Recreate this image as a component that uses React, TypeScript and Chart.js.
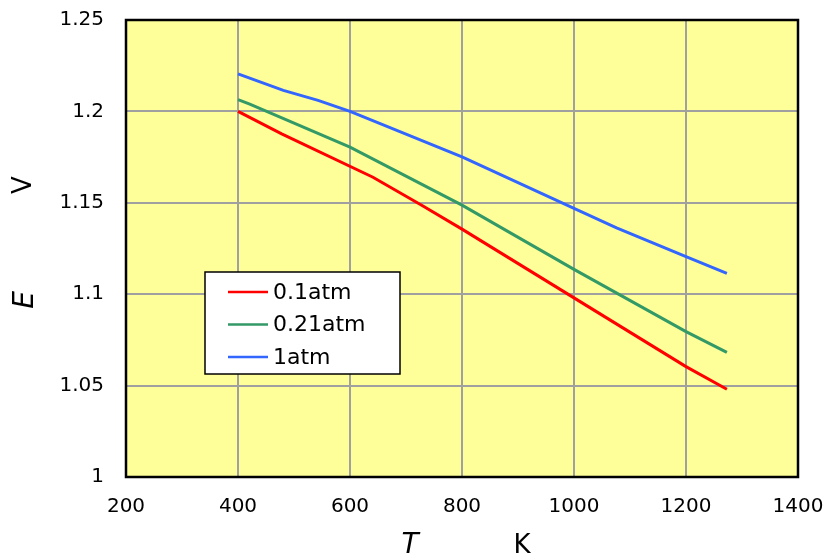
import React, { useEffect, useRef } from "react";
import { Chart, registerables } from "chart.js";
Chart.register(...registerables);

const seriesLabels = ["0.1atm", "0.21atm", "1atm"];
const seriesColors = ["#FF0000", "#339966", "#3366FF"];

const redT = [400, 478, 641, 728, 800, 1000, 1200, 1273];
const redE = [1.2, 1.1877, 1.164, 1.1487, 1.1356, 1.098, 1.0604, 1.048];

const greenT = [400, 421, 600, 800, 1000, 1200, 1273];
const greenE = [1.2064, 1.204, 1.1804, 1.1487, 1.1136, 1.0795, 1.0682];

const blueT = [400, 481, 543, 600, 800, 1000, 1076, 1200, 1273];
const blueE = [1.2205, 1.2115, 1.206, 1.2, 1.1751, 1.147, 1.1363, 1.1205, 1.1114];

const xMin = 200, xMax = 1400, xStep = 200;
const yMin = 1, yMax = 1.25, yStep = 0.05;

const FONT = "'DejaVu Sans', sans-serif";

const toPts = (t: number[], e: number[]) => t.map((x, i) => ({ x, y: e[i] }));

const decorPlugin = {
  id: "decor",
  beforeDraw(chart: any) {
    const { ctx, chartArea: a } = chart;
    ctx.save();
    ctx.fillStyle = "#FFFF99";
    ctx.fillRect(a.left, a.top, a.right - a.left, a.bottom - a.top);
    ctx.restore();
  },
  afterDatasetsDraw(chart: any) {
    const { ctx, chartArea: a } = chart;
    ctx.save();
    ctx.strokeStyle = "#000";
    ctx.lineWidth = 2.5;
    ctx.strokeRect(a.left, a.top, a.right - a.left, a.bottom - a.top);
    ctx.restore();
  },
  afterDraw(chart: any) {
    const { ctx } = chart;
    ctx.save();
    // legend
    const lx = 205, ly = 272, lw = 195, lh = 102;
    ctx.fillStyle = "#fff";
    ctx.fillRect(lx, ly, lw, lh);
    ctx.strokeStyle = "#000";
    ctx.lineWidth = 1.5;
    ctx.strokeRect(lx, ly, lw, lh);
    ctx.font = `22px ${FONT}`;
    ctx.textBaseline = "middle";
    ctx.textAlign = "left";
    chart.data.datasets.forEach((ds: any, i: number) => {
      const y = ly + 20 + i * 32.5;
      ctx.strokeStyle = ds.borderColor;
      ctx.lineWidth = 2.5;
      ctx.beginPath();
      ctx.moveTo(lx + 23, y);
      ctx.lineTo(lx + 63, y);
      ctx.stroke();
      ctx.fillStyle = "#000";
      ctx.fillText(ds.label, lx + 68, y + 1);
    });
    // axis titles
    ctx.fillStyle = "#000";
    ctx.textAlign = "center";
    ctx.textBaseline = "middle";
    ctx.font = `italic 28px ${FONT}`;
    ctx.fillText("T", 410, 546);
    ctx.font = `26px ${FONT}`;
    ctx.fillText("K", 522, 546);
    ctx.save();
    ctx.translate(26, 300);
    ctx.rotate(-Math.PI / 2);
    ctx.font = `italic 28px ${FONT}`;
    ctx.fillText("E", 0, 0);
    ctx.restore();
    ctx.save();
    ctx.translate(24, 185);
    ctx.rotate(-Math.PI / 2);
    ctx.font = `26px ${FONT}`;
    ctx.fillText("V", 0, 0);
    ctx.restore();
    ctx.restore();
  },
};

export default function App() {
  const ref = useRef<HTMLCanvasElement>(null);
  useEffect(() => {
    if (!ref.current) return;
    const mk = (label: string, color: string, t: number[], e: number[]) => ({
      label,
      data: toPts(t, e),
      borderColor: color,
      backgroundColor: color,
      borderWidth: 3,
      pointRadius: 0,
      tension: 0,
    });
    const chart = new Chart(ref.current, {
      type: "line",
      data: {
        datasets: [
          mk(seriesLabels[0], seriesColors[0], redT, redE),
          mk(seriesLabels[1], seriesColors[1], greenT, greenE),
          mk(seriesLabels[2], seriesColors[2], blueT, blueE),
        ],
      },
      options: {
        animation: false,
        responsive: false,
        devicePixelRatio: 1,
        layout: { padding: { top: 20, right: 33, left: 0, bottom: 0 } },
        plugins: { legend: { display: false }, tooltip: { enabled: false } },
        scales: {
          x: {
            type: "linear",
            min: xMin,
            max: xMax,
            ticks: {
              stepSize: xStep,
              color: "#000",
              font: { family: FONT, size: 20 },
              padding: 18,
              maxRotation: 0,
              callback: (v: any) => String(v),
            },
            grid: { color: "#A0A0A0", lineWidth: 2, drawTicks: false },
            border: { display: false },
            afterFit(scale: any) {
              scale.height = 83;
              scale.paddingLeft = 0;
              scale.paddingRight = 0;
            },
          },
          y: {
            type: "linear",
            min: yMin,
            max: yMax,
            ticks: {
              stepSize: yStep,
              color: "#000",
              font: { family: FONT, size: 20 },
              padding: 22,
              callback: (v: any) => String(Math.round(Number(v) * 100) / 100),
            },
            grid: { color: "#A0A0A0", lineWidth: 2, drawTicks: false },
            border: { display: false },
            afterFit(scale: any) {
              scale.width = 126;
              scale.paddingTop = 0;
              scale.paddingBottom = 0;
            },
          },
        },
      },
      plugins: [decorPlugin],
    } as any);
    return () => chart.destroy();
  }, []);
  return (
    <div style={{ position: "absolute", left: 0, top: 0, width: 831, height: 560, background: "#fff" }}>
      <canvas ref={ref} width={831} height={560} style={{ width: 831, height: 560 }} />
    </div>
  );
}
